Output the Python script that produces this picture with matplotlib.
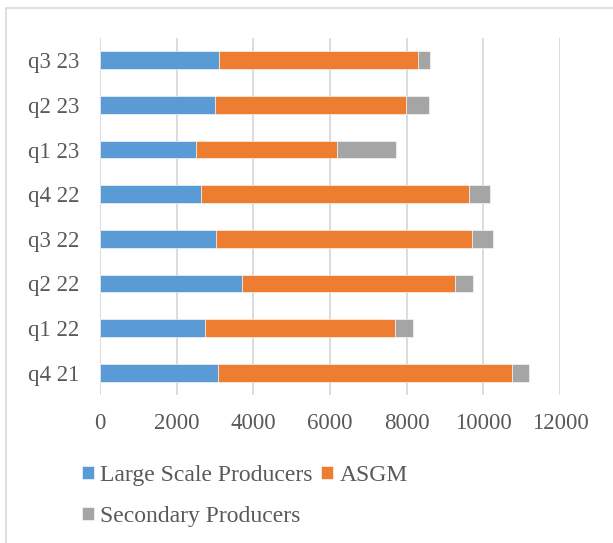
import matplotlib
matplotlib.use("Agg")
import matplotlib.pyplot as plt
from matplotlib.patches import Rectangle
import numpy as np

plt.rcParams["font.family"] = ["Liberation Serif", "DejaVu Serif"]

quarters = ["q4 21", "q1 22", "q2 22", "q3 22", "q4 22", "q1 23", "q2 23", "q3 23"]
large_scale = [3085, 2750, 3715, 3035, 2645, 2505, 3010, 3110]
asgm = [7670, 4955, 5550, 6670, 6985, 3687, 4975, 5190]
secondary = [435, 470, 470, 540, 555, 1530, 600, 305]

BLUE, ORANGE, GREY = "#5B9BD5", "#ED7D31", "#A5A5A5"
TXT = "#595959"
FS = 16.5
LFS = 17

fig = plt.figure(figsize=(6.13, 5.43), dpi=100)
ax = fig.add_axes([100/613, 1-395/543, 460/613, 357/543])

y = np.arange(len(quarters))
ls = np.array(large_scale)
ag = np.array(asgm)
h = 0.4
b1 = ax.barh(y, ls, h, color=BLUE, edgecolor="white", lw=0.4, label="Large Scale Producers", zorder=3)
b2 = ax.barh(y, ag, h, left=ls, color=ORANGE, edgecolor="white", lw=0.4, label="ASGM", zorder=3)
b3 = ax.barh(y, secondary, h, left=ls+ag, color=GREY, edgecolor="white", lw=0.4,
             label="Secondary Producers", zorder=3)

ax.set_xlim(0, 12000)
ax.set_ylim(-0.5, len(quarters)-0.5)
ax.set_xticks(range(0, 12001, 2000))
ax.set_yticks(y)
ax.set_yticklabels(quarters)
ax.tick_params(axis="x", length=0, pad=13, labelsize=FS, labelcolor=TXT)
ax.tick_params(axis="y", length=0, pad=15, labelsize=FS, labelcolor=TXT)
ax.grid(axis="x", color="#d9d9d9", lw=1.3, zorder=0)
for s in ax.spines.values():
    s.set_visible(False)

# column-major fill: LSP + Secondary in col 1, ASGM in col 2
leg = fig.legend([b1, b3, b2], ["Large Scale Producers", "Secondary Producers", "ASGM"],
                 loc="upper left", bbox_to_anchor=(82/613, 1-465/543), ncol=2,
                 frameon=False, fontsize=LFS, handlelength=0.51, handleheight=0.51,
                 handletextpad=0.25, columnspacing=0.38, labelspacing=0.85,
                 borderaxespad=0, borderpad=0)
for t in leg.get_texts():
    t.set_color(TXT)

# outer chart border
fig.patches.append(Rectangle((6/613, -0.1), 1.2, 1.1-8/543, transform=fig.transFigure,
                             fill=False, edgecolor="#d9d9d9", lw=1.2))

fig.savefig("out.png", dpi=100)
